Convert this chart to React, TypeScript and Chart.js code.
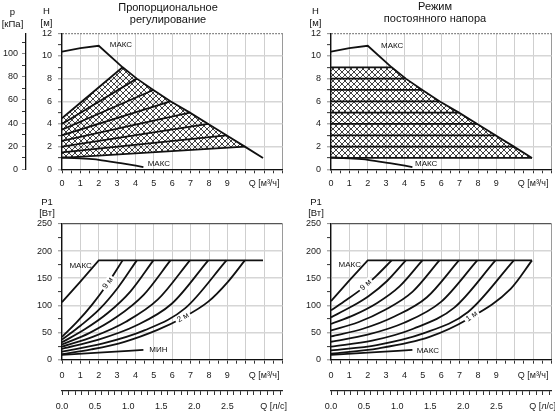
import React, { useEffect, useRef } from 'react';
import { Chart, registerables } from 'chart.js';

Chart.register(...registerables);

const FONT = "'Liberation Sans', Arial, Helvetica, sans-serif";

// ---------------- data ----------------
const Q_TICK_LABELS = ['0', '1', '2', '3', '4', '5', '6', '7', '8', '9'];
const Q_UNIT_LABEL = 'Q [м³/ч]';
const QLS_UNIT_LABEL = 'Q [л/с]';

// max-speed head curve H(Q), Q in m³/h, H in m
const MAX_Q = [0, 1, 2, 3.3, 4.07, 4.97, 5.9, 6.96, 7.96, 8.95, 9.95, 10.94];
const MAX_H = [10.38, 10.7, 10.9, 9, 8, 7, 6, 5, 4, 3, 2, 1];
// min-speed head curve
const MIN_Q = [0, 1, 2, 3.2, 4.43];
const MIN_H = [1.05, 0.96, 0.84, 0.54, 0.2];
// proportional-pressure set points (end on max curve) and heads at zero flow
const SET_H = [9, 8, 7, 6, 5, 4, 3, 2];
const SET_Q = [3.3, 4.07, 4.97, 5.9, 6.96, 7.96, 8.95, 9.95];
const PROP_H0 = [4.5, 4, 3.5, 3, 2.5, 2, 1.5, 1];
// constant-pressure set points
const CONST_H = [9, 8, 7, 6, 5, 4, 3, 2, 1];
const CONST_Q = [3.3, 4.07, 4.97, 5.9, 6.96, 7.96, 8.95, 9.95, 10.94];

// power P1 [W]
const PMAX_Q = [0, 1, 2, 10.94];
const PMAX_L = [106, 144, 183, 183];
const PMAX_R = [108, 146, 183, 183];
const PMIN_Q = [0, 2, 4.43];
const PMIN_P = [9, 13, 18];

// proportional mode power curves (9 м ... 2 м)
const PROP_PQ = [
  [0, 0.83, 1.65, 2.48, 3.3],
  [0, 1.02, 2.04, 3.05, 4.07],
  [0, 1.24, 2.49, 3.73, 4.97],
  [0, 1.48, 2.95, 4.43, 5.9],
  [0, 1.74, 3.48, 5.22, 6.96],
  [0, 1.99, 3.98, 5.97, 7.96],
  [0, 2.24, 4.48, 6.71, 8.95],
  [0, 1.6, 3.4, 5.2, 6.5, 7.96, 9.04, 9.95],
];
const PROP_PP = [
  [42, 70, 102, 140, 183],
  [37, 63, 93, 133, 183],
  [32, 56, 86, 126, 183],
  [28, 49, 78, 119, 183],
  [24, 43, 70, 111, 183],
  [20, 37, 62, 103, 183],
  [15, 30, 54, 95, 183],
  [10, 19, 33, 55, 76, 107, 144, 183],
];

// constant mode power curves (9 м ... 1 м)
const CONST_PQ = [
  [0, 0.83, 1.65, 2.48, 3.3],
  [0, 1.02, 2.04, 3.05, 4.07],
  [0, 1.24, 2.49, 3.73, 4.97],
  [0, 1.48, 2.95, 4.43, 5.9],
  [0, 1.74, 3.48, 5.22, 6.96],
  [0, 1.99, 3.98, 5.97, 7.96],
  [0, 2.24, 4.48, 6.71, 8.95],
  [0, 2.49, 4.98, 7.46, 9.95],
  [0, 2.6, 5.36, 7.46, 9.79, 10.94],
];
const CONST_PP = [
  [91, 110, 130, 155, 183],
  [78, 96, 117, 145, 183],
  [66, 82, 104, 135, 183],
  [54, 69, 92, 125, 183],
  [43, 57, 80, 115, 183],
  [33, 46, 68, 106, 183],
  [24, 35, 57, 96, 183],
  [17, 27, 48, 88, 183],
  [11, 21, 42, 75, 131, 183],
];

// ---------------- helpers ----------------
const pts = (qs: number[], vs: number[]) => qs.map((q, i) => ({ x: q, y: vs[i] }));
const TRANSPARENT = 'rgba(0,0,0,0)';
const LINE = '#111';

function zeroPad(s: any) {
  s.paddingLeft = 0;
  s.paddingRight = 0;
  s.paddingTop = 0;
  s.paddingBottom = 0;
}

function lineDs(data: any[], extra: any = {}) {
  return {
    type: 'line',
    data,
    xAxisID: 'x',
    yAxisID: 'y',
    borderColor: LINE,
    borderWidth: 1.8,
    pointRadius: 0,
    fill: false,
    tension: 0,
    order: 0,
    ...extra,
  };
}

function makeHatch(): CanvasPattern | string {
  const c = document.createElement('canvas');
  c.width = 6;
  c.height = 6;
  const g = c.getContext('2d');
  if (!g) return '#888';
  g.strokeStyle = '#2a2a2a';
  g.lineWidth = 0.9;
  g.beginPath();
  g.moveTo(-1, -1);
  g.lineTo(7, 7);
  g.moveTo(-1, 7);
  g.lineTo(7, -1);
  g.stroke();
  const p = g.createPattern(c, 'repeat');
  return p || '#888';
}

function qAxis(height: number, padding: number) {
  return {
    type: 'linear',
    position: 'bottom',
    min: 0,
    max: 12,
    weight: 0,
    afterFit: (s: any) => {
      s.height = height;
      zeroPad(s);
    },
    ticks: {
      stepSize: 0.5,
      autoSkip: false,
      maxRotation: 0,
      minRotation: 0,
      padding,
      color: '#1a1a1a',
      font: { family: FONT, size: 9 },
      callback: (v: number) =>
        v === 11 ? Q_UNIT_LABEL : Number.isInteger(v) && v <= 9 ? Q_TICK_LABELS[v] : '',
    },
    grid: {
      color: (c: any) =>
        !c.tick ? '#cdcdcd' : c.tick.value === 12 ? '#9a9a9a' : Number.isInteger(c.tick.value) ? '#cfcfcf' : TRANSPARENT,
      lineWidth: 1,
      tickLength: 4,
      tickColor: '#333',
      tickWidth: 1,
    },
    border: { color: '#111', width: 1.3, z: 1 },
  };
}

function lsAxis() {
  return {
    type: 'linear',
    position: 'bottom',
    min: 0,
    max: 12 / 3.6,
    weight: 1,
    afterFit: (s: any) => {
      s.height = 22;
      zeroPad(s);
    },
    ticks: {
      stepSize: 0.1,
      includeBounds: false,
      autoSkip: false,
      maxRotation: 0,
      minRotation: 0,
      padding: 6,
      color: '#1a1a1a',
      font: { family: FONT, size: 9 },
      callback: (v: number) => {
        const k = Math.round(v * 10);
        if (k === 32) return QLS_UNIT_LABEL;
        return k % 5 === 0 && k <= 25 ? (k / 10).toFixed(1) : '';
      },
    },
    grid: { drawOnChartArea: false, tickLength: 4, tickColor: '#333', tickWidth: 1 },
    border: { color: '#222', width: 1.2 },
  };
}

function hAxis() {
  return {
    type: 'linear',
    position: 'left',
    min: 0,
    max: 12,
    weight: 0,
    afterFit: (s: any) => {
      s.width = 36;
      zeroPad(s);
    },
    ticks: {
      stepSize: 1,
      autoSkip: false,
      padding: 6,
      color: '#1a1a1a',
      font: { family: FONT, size: 9 },
      callback: (v: number) => (v % 2 === 0 ? String(v) : ''),
    },
    grid: {
      color: (c: any) =>
        !c.tick ? '#d4d4d4' : c.tick.value === 12 ? '#6a6a6a' : c.tick.value % 2 === 0 ? '#d6d6d6' : TRANSPARENT,
      lineWidth: (c: any) => (c.tick && c.tick.value % 2 === 0 && c.tick.value !== 12 ? 1.6 : 1.3),
      tickLength: 4,
      tickColor: (c: any) => (c.tick && c.tick.value % 2 === 0 ? '#888' : '#333'),
      tickWidth: 1,
    },
    border: {
      color: '#111',
      width: 1.3,
      z: 1,
      dash: (c: any) => (c && c.tick && c.tick.value === 12 ? [1.5, 1.5] : []),
    },
  };
}

function pAxis() {
  return {
    type: 'linear',
    position: 'left',
    min: 0,
    max: 250,
    weight: 0,
    afterFit: (s: any) => {
      s.width = 36;
      zeroPad(s);
    },
    ticks: {
      stepSize: 25,
      autoSkip: false,
      padding: 6,
      color: '#1a1a1a',
      font: { family: FONT, size: 9 },
      callback: (v: number) => (v % 50 === 0 ? String(v) : ''),
    },
    grid: {
      color: (c: any) =>
        !c.tick ? '#d4d4d4' : c.tick.value === 250 ? '#555' : c.tick.value % 50 === 0 ? '#d6d6d6' : TRANSPARENT,
      lineWidth: (c: any) => (c.tick && c.tick.value % 50 === 0 && c.tick.value !== 250 ? 1.6 : 1.2),
      tickLength: 4,
      tickColor: (c: any) => (c.tick && c.tick.value % 50 === 0 ? '#888' : '#333'),
      tickWidth: 1,
    },
    border: { color: '#111', width: 1.3, z: 1 },
  };
}

function kpaAxis() {
  return {
    type: 'linear',
    position: 'left',
    min: 0,
    max: 12 * 9.807,
    weight: 1,
    afterFit: (s: any) => {
      s.width = 26;
      zeroPad(s);
    },
    ticks: {
      stepSize: 10,
      includeBounds: false,
      autoSkip: false,
      padding: 4,
      color: '#1a1a1a',
      font: { family: FONT, size: 9 },
      callback: (v: number) => (v % 20 === 0 ? String(v) : ''),
    },
    grid: {
      drawOnChartArea: false,
      tickLength: 4,
      tickColor: (c: any) => (c.tick && c.tick.value % 20 === 0 ? '#888' : '#333'),
      tickWidth: 1,
    },
    border: { color: '#111', width: 1.3 },
  };
}

type Txt = {
  t: string;
  px?: [number, number];
  d?: [number, number];
  size?: number;
  align?: CanvasTextAlign;
  rot?: number;
  bg?: boolean;
};

function textPlugin(items: Txt[]) {
  return {
    id: 'texts',
    afterDraw(chart: any) {
      const ctx = chart.ctx as CanvasRenderingContext2D;
      const xs = chart.scales.x;
      const ys = chart.scales.y;
      for (const it of items) {
        const size = it.size || 9;
        let x: number;
        let y: number;
        if (it.d) {
          x = xs.getPixelForValue(it.d[0]);
          y = ys.getPixelForValue(it.d[1]);
        } else {
          x = it.px![0];
          y = it.px![1];
        }
        ctx.save();
        ctx.font = `${size}px ${FONT}`;
        ctx.textAlign = it.align || 'center';
        ctx.textBaseline = 'middle';
        ctx.translate(x, y);
        if (it.rot) ctx.rotate((-it.rot * Math.PI) / 180);
        if (it.bg) {
          const w = ctx.measureText(it.t).width;
          ctx.fillStyle = '#fff';
          ctx.fillRect(-w / 2 - 2, -size * 0.55, w + 4, size * 1.1);
        }
        ctx.fillStyle = '#111';
        ctx.fillText(it.t, 0, 0);
        ctx.restore();
      }
    },
  };
}

function baseOptions(padding: any, scales: any) {
  return {
    responsive: false,
    animation: false,
    events: [],
    layout: { autoPadding: false, padding },
    plugins: { legend: { display: false }, tooltip: { enabled: false }, title: { display: false } },
    elements: { point: { radius: 0 } },
    scales,
  };
}

function buildConfigs() {
  const hatch = makeHatch();

  // ---- top-left: proportional pressure, H(Q)
  const propPoly = [
    { x: 0, y: PROP_H0[0] },
    ...pts(SET_Q, SET_H),
    { x: 0, y: PROP_H0[PROP_H0.length - 1] },
  ];
  const tl = {
    type: 'line',
    data: {
      datasets: [
        lineDs(pts(MAX_Q, MAX_H)),
        ...SET_Q.map((q, i) => lineDs([{ x: 0, y: PROP_H0[i] }, { x: q, y: SET_H[i] }])),
        lineDs(pts(MIN_Q, MIN_H), { cubicInterpolationMode: 'monotone' }),
        lineDs(propPoly, { fill: 'shape', backgroundColor: hatch, borderColor: TRANSPARENT, borderWidth: 0, order: 10 }),
      ],
    },
    options: baseOptions(
      { left: 0, top: 33.3, right: 555 - 282.5, bottom: 416 - 169.3 - 26 },
      { x: qAxis(26, 5), y: hAxis(), yp: kpaAxis() }
    ),
    plugins: [
      textPlugin([
        { t: 'Пропорциональное', px: [168, 7.5], size: 11 },
        { t: 'регулирование', px: [168, 19.5], size: 11 },
        { t: 'p', px: [12.5, 12.5], size: 9.5 },
        { t: '[кПа]', px: [12.5, 24], size: 9.5 },
        { t: 'H', px: [46.5, 11.5], size: 9.5 },
        { t: '[м]', px: [46.5, 23.5], size: 9.5 },
        { t: 'МАКС', d: [2.6, 11.0], size: 8, align: 'left' },
        { t: 'МАКС', d: [4.66, 0.5], size: 8, align: 'left' },
      ]),
    ],
  };

  // ---- top-right: constant pressure, H(Q)
  const constPoly = [
    { x: 0, y: CONST_H[0] },
    ...pts(CONST_Q, CONST_H),
    { x: 0, y: CONST_H[CONST_H.length - 1] },
  ];
  const tr = {
    type: 'line',
    data: {
      datasets: [
        lineDs(pts(MAX_Q, MAX_H)),
        ...CONST_Q.map((q, i) => lineDs([{ x: 0, y: CONST_H[i] }, { x: q, y: CONST_H[i] }])),
        lineDs(pts(MIN_Q, MIN_H), { cubicInterpolationMode: 'monotone' }),
        lineDs(constPoly, { fill: 'shape', backgroundColor: hatch, borderColor: TRANSPARENT, borderWidth: 0, order: 10 }),
      ],
    },
    options: baseOptions(
      { left: 295, top: 33.3, right: 555 - 551.5, bottom: 416 - 169.3 - 26 },
      { x: qAxis(26, 5), y: hAxis() }
    ),
    plugins: [
      textPlugin([
        { t: 'Режим', px: [435, 6.5], size: 11 },
        { t: 'постоянного напора', px: [435, 18.5], size: 11 },
        { t: 'H', px: [315.5, 11.5], size: 9.5 },
        { t: '[м]', px: [315.5, 23.5], size: 9.5 },
        { t: 'МАКС', d: [2.72, 10.88], size: 8, align: 'left' },
        { t: 'МАКС', d: [4.57, 0.47], size: 8, align: 'left' },
      ]),
    ],
  };

  // ---- bottom-left: proportional pressure, P1(Q)
  const bl = {
    type: 'line',
    data: {
      datasets: [
        lineDs(pts(PMAX_Q, PMAX_L)),
        ...PROP_PQ.map((qs, i) => lineDs(pts(qs, PROP_PP[i]), { cubicInterpolationMode: 'monotone' })),
        lineDs(pts(PMIN_Q, PMIN_P), { cubicInterpolationMode: 'monotone' }),
      ],
    },
    options: baseOptions(
      { left: 26, top: 224, right: 555 - 282.5, bottom: 416 - 359.7 - 31.3 - 22 },
      { x: qAxis(31.3, 6), xs: lsAxis(), y: pAxis() }
    ),
    plugins: [
      textPlugin([
        { t: 'P1', px: [47, 202], size: 9.5 },
        { t: '[Вт]', px: [47, 213.5], size: 9.5 },
        { t: 'МАКС', d: [1.62, 173], size: 8, align: 'right' },
        { t: 'МИН', d: [4.75, 17.9], size: 8, align: 'left' },
        { t: '9 м', d: [2.5, 141], size: 8, rot: 53, bg: true },
        { t: '2 м', d: [6.58, 77.5], size: 8, rot: 29, bg: true },
      ]),
    ],
  };

  // ---- bottom-right: constant pressure, P1(Q)
  const br = {
    type: 'line',
    data: {
      datasets: [
        lineDs(pts(PMAX_Q, PMAX_R)),
        ...CONST_PQ.map((qs, i) => lineDs(pts(qs, CONST_PP[i]), { cubicInterpolationMode: 'monotone' })),
        lineDs(pts(PMIN_Q, PMIN_P), { cubicInterpolationMode: 'monotone' }),
      ],
    },
    options: baseOptions(
      { left: 295, top: 224, right: 555 - 551.5, bottom: 416 - 359.7 - 31.3 - 22 },
      { x: qAxis(31.3, 6), xs: lsAxis(), y: pAxis() }
    ),
    plugins: [
      textPlugin([
        { t: 'P1', px: [316, 202], size: 9.5 },
        { t: '[Вт]', px: [316, 213.5], size: 9.5 },
        { t: 'МАКС', d: [1.63, 174.5], size: 8, align: 'right' },
        { t: 'МАКС', d: [4.66, 16], size: 8, align: 'left' },
        { t: '9 м', d: [1.9, 137.5], size: 8, rot: 42, bg: true },
        { t: '1 м', d: [7.66, 79.8], size: 8, rot: 35, bg: true },
      ]),
    ],
  };

  return [tl, tr, bl, br];
}

export default function App() {
  const r0 = useRef<HTMLCanvasElement>(null);
  const r1 = useRef<HTMLCanvasElement>(null);
  const r2 = useRef<HTMLCanvasElement>(null);
  const r3 = useRef<HTMLCanvasElement>(null);
  const refs = [r0, r1, r2, r3];

  useEffect(() => {
    const configs = buildConfigs();
    const charts: Chart[] = [];
    configs.forEach((cfg, i) => {
      const el = refs[i].current;
      if (el) charts.push(new Chart(el, cfg as any));
    });
    return () => charts.forEach((c) => c.destroy());
  }, []);

  return (
    <div style={{ position: 'fixed', left: 0, top: 0, width: 555, height: 416, background: '#fff' }}>
      {refs.map((r, i) => (
        <canvas
          key={i}
          ref={r}
          width={555}
          height={416}
          style={{ position: 'absolute', left: 0, top: 0, width: 555, height: 416 }}
        />
      ))}
    </div>
  );
}
